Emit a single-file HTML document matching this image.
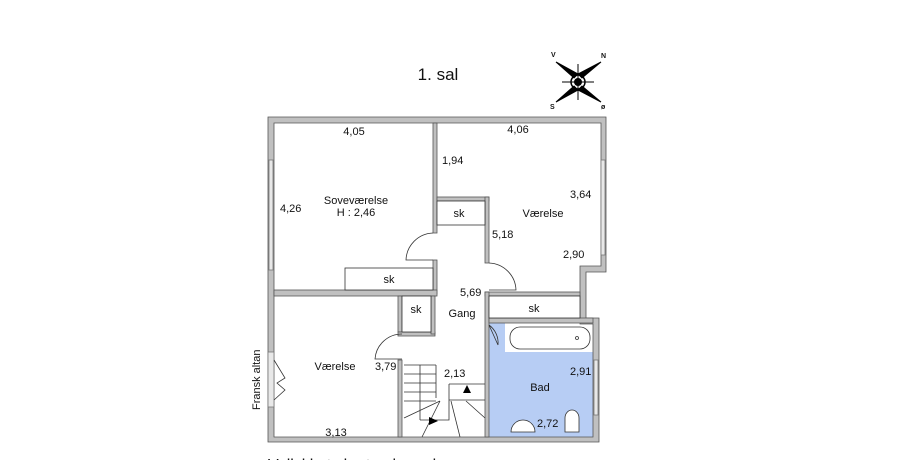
<!DOCTYPE html>
<html><head><meta charset="utf-8"><style>
html,body{margin:0;padding:0;background:#fff;width:905px;height:460px;overflow:hidden}
svg{display:block;font-family:"Liberation Sans",sans-serif}
text{fill:#111;font-size:11px}
</style></head><body>
<svg width="905" height="460" viewBox="0 0 905 460" xmlns="http://www.w3.org/2000/svg">
<text x="438" y="80" text-anchor="middle" style="font-size:17px">1. sal</text>
<g stroke="#000" fill="#000">
<polygon points="556,62 574,78 578,74"/>
<polygon points="601,62 582,78 578,74"/>
<polygon points="556,102 574,86 578,90"/>
<polygon points="601,102 582,86 578,90"/>
<line x1="578" y1="64" x2="578" y2="100" stroke-width="1"/>
<line x1="562" y1="82" x2="594" y2="82" stroke-width="1"/>
<circle cx="578" cy="82" r="7" fill="none" stroke-width="1.5"/>
<circle cx="578" cy="82" r="3.5"/>
</g>
<text x="551" y="57" style="font-size:7px;font-weight:bold">V</text>
<text x="601" y="58" style="font-size:7px;font-weight:bold">N</text>
<text x="550" y="109" style="font-size:7px;font-weight:bold">S</text>
<text x="601" y="109" style="font-size:7px;font-weight:bold">ø</text>
<rect x="489" y="323" width="105" height="114" fill="#b7cdf4"/>
<rect x="505" y="323" width="89" height="29" fill="#fff"/>
<g fill="#c0c0c0" stroke="#555" stroke-width="0.8">
<path d="M268,117 H606 V272 H586 V318 H599 V442 H268 Z M274,123 V437 H593 V324 H580 V266 H601 V123 Z" fill-rule="evenodd"/>
<rect x="433" y="123" width="4" height="110"/>
<rect x="433" y="260" width="4" height="34"/>
<rect x="274" y="290" width="163" height="6"/>
<rect x="437" y="197" width="52" height="4"/>
<rect x="485" y="197" width="4" height="66"/>
<rect x="485" y="292" width="95" height="4"/>
<rect x="485" y="292" width="4" height="145"/>
<rect x="489" y="318" width="104" height="5"/>
<rect x="398" y="296" width="4" height="36"/>
<rect x="398" y="332" width="37" height="4"/>
<rect x="431" y="296" width="4" height="38"/>
<rect x="398" y="360" width="4" height="77"/>
</g>
<g fill="#e8e8e8" stroke="#777" stroke-width="0.8">
<rect x="269" y="160" width="4" height="110"/>
<rect x="601" y="160" width="4" height="95"/>
<rect x="594" y="360" width="4" height="55"/>
<rect x="268" y="352" width="6" height="55"/>
</g>
<g fill="#fff" stroke="#333" stroke-width="0.8">
<rect x="345" y="268" width="88" height="22"/>
<rect x="437" y="201" width="48" height="24"/>
<rect x="489" y="296" width="91" height="22"/>
<rect x="402" y="296" width="29" height="36"/>
</g>
<g fill="none" stroke="#333" stroke-width="0.8">
<path d="M433,233 A28,28 0 0 0 406,260 H433"/>
<path d="M489,263 A28,28 0 0 1 516,290 H489"/>
<path d="M402,334 A27,27 0 0 0 375,359 H402"/>
<path d="M489,325 L498,345 M489,325 A22,22 0 0 1 498,345"/>
<path d="M274,360 L285,378 L277,383 L285,390 L274,400"/>
<rect x="510" y="327" width="80" height="22" rx="10"/>
<circle cx="577" cy="338" r="1.5"/>
<path d="M511,432 A12,12 0 1 1 535,432 Z" fill="#fff"/>
<path d="M565,432 V418 A7,8 0 0 1 579,418 V432 Z" fill="#fff"/>
<path d="M404,365 H436 M404,374 H436 M404,383 H436 M404,392 H436 M404,401 H436 M420,365 V420 M449,384 V420 H420 M449,384 H485 M436,365 V398 M449,400 H485 M404,418 L440,401 M422,437 L440,401 M460,437 L451,401 M485,418 L466,401"/>
</g>
<polygon points="463,393 467,385 471,393" fill="#000"/>
<polygon points="429,417 438,421 429,425" fill="#000"/>
<text x="354" y="135" text-anchor="middle">4,05</text>
<text x="518" y="133" text-anchor="middle">4,06</text>
<text x="442" y="164">1,94</text>
<text x="570" y="198">3,64</text>
<text x="280" y="212">4,26</text>
<text x="356" y="204" text-anchor="middle">Soveværelse</text>
<text x="356" y="216" text-anchor="middle">H : 2,46</text>
<text x="459" y="217" text-anchor="middle">sk</text>
<text x="543" y="217" text-anchor="middle">Værelse</text>
<text x="492" y="238">5,18</text>
<text x="563" y="258">2,90</text>
<text x="389" y="283" text-anchor="middle">sk</text>
<text x="460" y="296">5,69</text>
<text x="534" y="312" text-anchor="middle">sk</text>
<text x="416" y="313" text-anchor="middle">sk</text>
<text x="462" y="317" text-anchor="middle">Gang</text>
<text x="335" y="370" text-anchor="middle">Værelse</text>
<text x="375" y="370">3,79</text>
<text x="444" y="377">2,13</text>
<text x="570" y="375">2,91</text>
<text x="540" y="391" text-anchor="middle">Bad</text>
<text x="537" y="427">2,72</text>
<text x="336" y="436" text-anchor="middle">3,13</text>
<text transform="translate(260,410) rotate(-90)" style="font-size:11px">Fransk altan</text>
<text x="268" y="470" style="font-size:16px">Vellykket skrot opkaende</text>
</svg>
</body></html>
